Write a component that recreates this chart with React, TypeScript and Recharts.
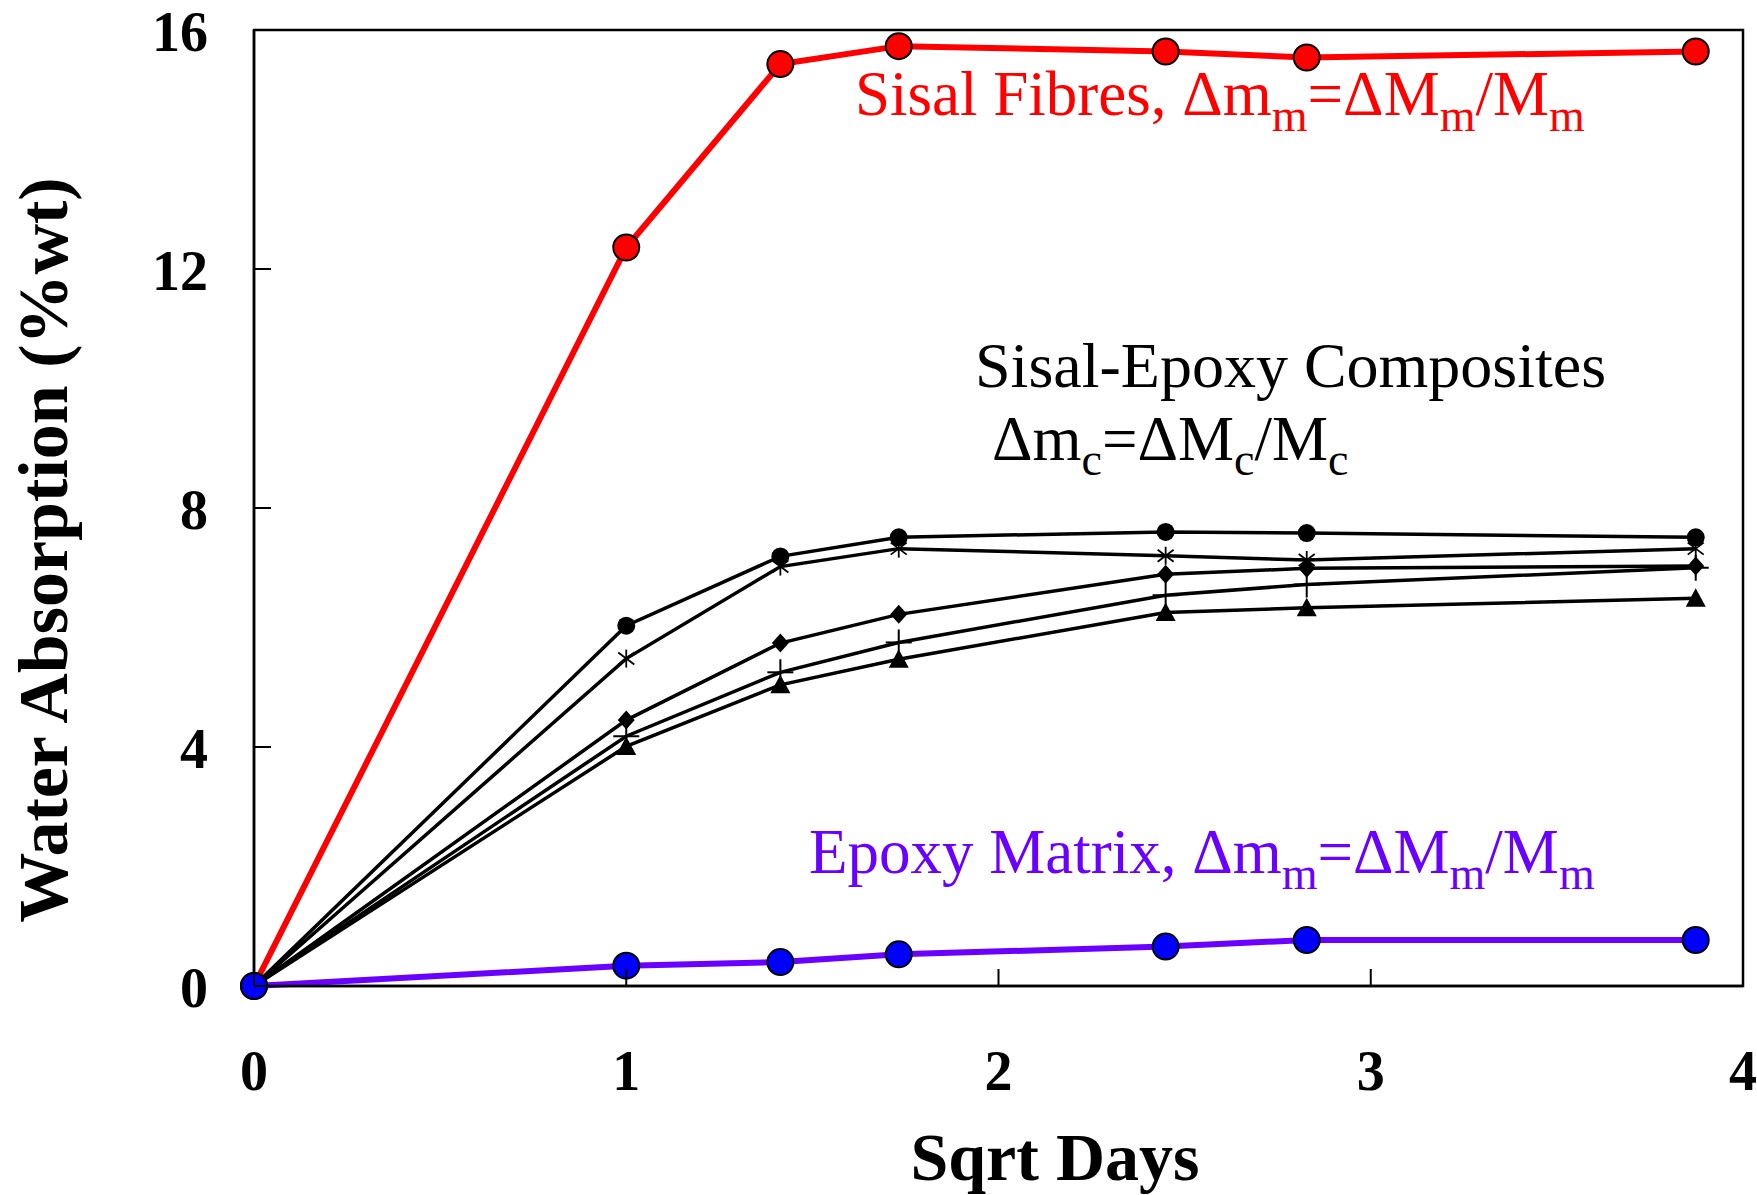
import React from 'react';
import { LineChart, Line, XAxis, YAxis, ReferenceArea, Customized } from 'recharts';

// ---------- data ----------
const sqrtDays = [0, 1, 1.414, 1.732, 2.449, 2.828, 3.873];
const sisalFibres = [0, 12.36, 15.43, 15.73, 15.64, 15.54, 15.64];
const epoxyMatrix = [0, 0.34, 0.4, 0.53, 0.66, 0.77, 0.77];
const compCircle = [0, 6.03, 7.19, 7.51, 7.6, 7.58, 7.51];
const compStar = [0, 5.48, 7.02, 7.32, 7.2, 7.13, 7.32];
const compDiamond = [0, 4.45, 5.74, 6.22, 6.89, 6.99, 7.03];
const compPlus = [0, 4.18, 5.25, 5.75, 6.54, 6.72, 7.0];
const compTriangle = [0, 4.01, 5.04, 5.47, 6.25, 6.33, 6.49];
const xTicks = [0, 1, 2, 3, 4];
const yTicks = [0, 4, 8, 12, 16];

const rows = sqrtDays.map((x, i) => ({
  x,
  fibres: sisalFibres[i],
  matrix: epoxyMatrix[i],
  c1: compCircle[i],
  c2: compStar[i],
  c3: compDiamond[i],
  c4: compPlus[i],
  c5: compTriangle[i],
}));

// ---------- layout ----------
const W = 1757;
const H = 1195;
const PLOT_LEFT = 254;
const PLOT_TOP = 30;
const PLOT_RIGHT = 1743;
const PLOT_BOTTOM = 986;
const Y_AXIS_W = 200;
const X_AXIS_H = 100;
const SERIF = '"Liberation Serif", "Times New Roman", serif';
const RED = '#ff0000';
const PURPLE = '#6a00ff';
const MAIN_FS = 63;
const SUB_FS = 46;

const YTick = (props: any) => {
  const { y, payload } = props;
  return (
    <g>
      <line x1={PLOT_LEFT} x2={PLOT_LEFT + 17} y1={y} y2={y} stroke="#000" strokeWidth={2} />
      <text x={208} y={y + 21} textAnchor="end" fontFamily={SERIF} fontWeight="bold" fontSize={56} fill="#000">
        {payload.value}
      </text>
    </g>
  );
};

const XTick = (props: any) => {
  const { x, payload } = props;
  return (
    <g>
      <line x1={x} x2={x} y1={PLOT_BOTTOM} y2={PLOT_BOTTOM - 17} stroke="#000" strokeWidth={2} />
      <text x={x} y={PLOT_BOTTOM + 104} textAnchor="middle" fontFamily={SERIF} fontWeight="bold" fontSize={56} fill="#000">
        {payload.value}
      </text>
    </g>
  );
};

const bigDot = (fill: string) => (props: any) => {
  const { cx, cy, index } = props;
  if (cx == null || cy == null) return <g key={index} />;
  return <circle key={index} cx={cx} cy={cy} r={13} fill={fill} stroke="#000" strokeWidth={2} />;
};

const shapeDot = (shape: string) => (props: any) => {
  const { cx, cy, index } = props;
  if (cx == null || cy == null) return <g key={index} />;
  if (shape === 'circle') return <circle key={index} cx={cx} cy={cy} r={9} fill="#000" />;
  if (shape === 'diamond')
    return (
      <polygon
        key={index}
        points={`${cx},${cy - 9.5} ${cx + 8.5},${cy} ${cx},${cy + 9.5} ${cx - 8.5},${cy}`}
        fill="#000"
      />
    );
  if (shape === 'triangle')
    return (
      <polygon
        key={index}
        points={`${cx},${cy - 10} ${cx + 10},${cy + 8.5} ${cx - 10},${cy + 8.5}`}
        fill="#000"
      />
    );
  if (shape === 'plus')
    return (
      <g key={index} stroke="#000" strokeWidth={2}>
        <line x1={cx - 13} x2={cx + 13} y1={cy} y2={cy} />
        <line x1={cx} x2={cx} y1={cy - 13} y2={cy + 13} />
      </g>
    );
  // asterisk
  return (
    <g key={index} stroke="#000" strokeWidth={1.8}>
      <line x1={cx} x2={cx} y1={cy - 9} y2={cy + 9} />
      <line x1={cx - 8} x2={cx + 8} y1={cy - 6} y2={cy + 6} />
      <line x1={cx - 8} x2={cx + 8} y1={cy + 6} y2={cy - 6} />
    </g>
  );
};

const Formula = ({ x, y, fill, lead, sub, dy }: any) => (
  <text x={x} y={y} fontSize={MAIN_FS} fill={fill}>
    {lead}Δm
    <tspan dy={dy} fontSize={SUB_FS}>{sub}</tspan>
    <tspan dy={-dy}>=ΔM</tspan>
    <tspan dy={dy} fontSize={SUB_FS}>{sub}</tspan>
    <tspan dy={-dy}>/M</tspan>
    <tspan dy={dy} fontSize={SUB_FS}>{sub}</tspan>
  </text>
);

const Annotations = () => (
  <g fontFamily={SERIF}>
    <Formula x={855} y={115} fill={RED} lead="Sisal Fibres, " sub="m" dy={16} />
    <text x={975} y={387} fontSize={64} fill="#000">
      Sisal-Epoxy Composites
    </text>
    <Formula x={992} y={460} fill="#000" lead="" sub="c" dy={15} />
    <Formula x={809} y={873} fill={PURPLE} lead="Epoxy Matrix, " sub="m" dy={16} />
    <text x={1055} y={1180} textAnchor="middle" fontSize={68} fontWeight="bold" fill="#000">
      Sqrt Days
    </text>
    <text
      x={67}
      y={550}
      textAnchor="middle"
      fontSize={70}
      fontWeight="bold"
      fill="#000"
      transform="rotate(-90 67 550)"
    >
      Water Absorption (%wt)
    </text>
  </g>
);

export default function App() {
  return (
    <div style={{ position: 'absolute', left: 0, top: 0, width: W, height: H, background: '#fff' }}>
      <LineChart
        width={W}
        height={H}
        data={rows}
        margin={{
          top: PLOT_TOP,
          right: W - PLOT_RIGHT,
          left: PLOT_LEFT - Y_AXIS_W,
          bottom: H - PLOT_BOTTOM - X_AXIS_H,
        }}
      >
        <XAxis
          dataKey="x"
          type="number"
          domain={[0, 4]}
          ticks={xTicks}
          height={X_AXIS_H}
          axisLine={{ stroke: '#000', strokeWidth: 2.5 }}
          tickLine={false}
          tick={<XTick />}
          interval={0}
        />
        <YAxis
          type="number"
          domain={[0, 16]}
          ticks={yTicks}
          width={Y_AXIS_W}
          axisLine={{ stroke: '#000', strokeWidth: 2.5 }}
          tickLine={false}
          tick={<YTick />}
          interval={0}
        />
        <ReferenceArea x1={0} x2={4} y1={0} y2={16} fill="none" stroke="#000" strokeWidth={2.5} />
        <Line dataKey="c1" stroke="#000" strokeWidth={3.5} dot={shapeDot('circle')} activeDot={false} isAnimationActive={false} />
        <Line dataKey="c2" stroke="#000" strokeWidth={3.5} dot={shapeDot('star')} activeDot={false} isAnimationActive={false} />
        <Line dataKey="c3" stroke="#000" strokeWidth={3.5} dot={shapeDot('diamond')} activeDot={false} isAnimationActive={false} />
        <Line dataKey="c4" stroke="#000" strokeWidth={3.5} dot={shapeDot('plus')} activeDot={false} isAnimationActive={false} />
        <Line dataKey="c5" stroke="#000" strokeWidth={3.5} dot={shapeDot('triangle')} activeDot={false} isAnimationActive={false} />
        <Line dataKey="fibres" stroke={RED} strokeWidth={6} dot={bigDot(RED)} activeDot={false} isAnimationActive={false} />
        <Line dataKey="matrix" stroke={PURPLE} strokeWidth={6} dot={bigDot('#0000ff')} activeDot={false} isAnimationActive={false} />
        <Customized component={Annotations} />
      </LineChart>
    </div>
  );
}
